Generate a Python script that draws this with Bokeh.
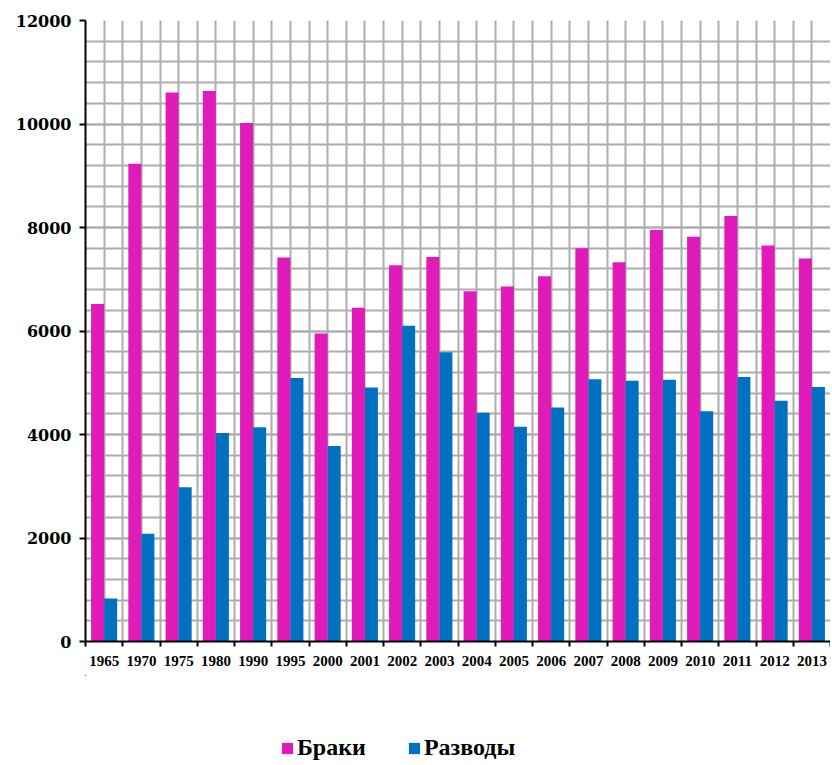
from bokeh.plotting import figure
from bokeh.models import ColumnDataSource, FixedTicker, Range1d, Legend, LegendItem
from bokeh.layouts import column
from bokeh.embed import file_html
from bokeh.resources import INLINE
import numpy as np

years = ["1965", "1970", "1975", "1980", "1990", "1995", "2000", "2001", "2002", "2003",
         "2004", "2005", "2006", "2007", "2008", "2009", "2010", "2011", "2012", "2013"]
marriages = [6520, 9230, 10610, 10640, 10020, 7420, 5950, 6450, 7270, 7430,
             6770, 6860, 7060, 7600, 7330, 7950, 7820, 8220, 7650, 7400]
divorces = [830, 2080, 2980, 4030, 4140, 5090, 3780, 4910, 6100, 5590,
            4420, 4150, 4520, 5070, 5040, 5060, 4450, 5110, 4650, 4920]
y_ticks = [0, 2000, 4000, 6000, 8000, 10000, 12000]
label_marriages = "Браки"
label_divorces = "Разводы"

MAGENTA = "#E01BB9"
BLUE = "#0070C0"
GRID = "#ADADAD"

n = len(years)
idx = np.arange(n)
bw = 0.35
src = ColumnDataSource(dict(
    x1=idx + 0.5 - bw / 2,
    x2=idx + 0.5 + bw / 2,
    m=marriages,
    d=divorces,
))

p = figure(width=830, height=675, output_backend="svg", toolbar_location=None,
           x_range=Range1d(0, n), y_range=Range1d(0, 12000),
           min_border_left=85, min_border_right=0, min_border_top=20,
           min_border_bottom=34)
p.outline_line_color = None
p.background_fill_color = "white"
p.border_fill_color = "white"

r1 = p.vbar(x="x1", top="m", width=bw, source=src, fill_color=MAGENTA, line_color=None)
r2 = p.vbar(x="x2", top="d", width=bw, source=src, fill_color=BLUE, line_color=None)

# x axis: labels at centres, tick marks at boundaries
centers = [float(i) + 0.5 for i in idx]
bounds = [float(i) for i in range(n + 1)]
p.xaxis.ticker = FixedTicker(ticks=centers, minor_ticks=bounds)
p.xaxis.major_label_overrides = {c: y for c, y in zip(centers, years)}
p.xaxis.major_tick_line_color = None
p.xaxis.major_tick_out = 0
p.xaxis.major_tick_in = 0
p.xaxis.minor_tick_line_color = "black"
p.xaxis.minor_tick_line_width = 2
p.xaxis.minor_tick_out = 5
p.xaxis.minor_tick_in = 0
p.xaxis.axis_line_color = "black"
p.xaxis.axis_line_width = 2
p.xaxis.major_label_text_font = "Liberation Serif"
p.xaxis.major_label_text_font_style = "bold"
p.xaxis.major_label_text_font_size = "15px"
p.xaxis.major_label_text_color = "black"
p.xaxis.major_label_standoff = 9

# y axis
p.yaxis.ticker = FixedTicker(ticks=y_ticks, minor_ticks=list(range(0, 12001, 400)))
p.yaxis.major_tick_line_color = "black"
p.yaxis.major_tick_line_width = 2
p.yaxis.major_tick_out = 6
p.yaxis.major_tick_in = 0
p.yaxis.minor_tick_line_color = None
p.yaxis.axis_line_color = "black"
p.yaxis.axis_line_width = 2
p.yaxis.major_label_text_font = "DejaVu Serif"
p.yaxis.major_label_text_font_style = "bold"
p.yaxis.major_label_text_font_size = "16px"
p.yaxis.major_label_text_color = "black"
p.yaxis.major_label_standoff = 8

# grids
p.xgrid.ticker = FixedTicker(ticks=sorted(centers + bounds))
p.xgrid.grid_line_color = GRID
p.xgrid.grid_line_width = 2
p.ygrid.grid_line_color = GRID
p.ygrid.grid_line_width = 2
p.ygrid.minor_grid_line_color = GRID
p.ygrid.minor_grid_line_width = 2

# legend strip below the chart (same series, kept entirely outside this strip's view)
q = figure(width=830, height=87, output_backend="svg", toolbar_location=None,
           x_axis_type=None, y_axis_type=None, min_border=0,
           x_range=Range1d(1000, 1001), y_range=Range1d(-2, -1))
q.outline_line_color = None
q.border_fill_color = "white"
q.background_fill_color = "white"
lg1 = q.vbar(x="x1", top="m", width=bw, source=src, fill_color=MAGENTA, line_color=None)
lg2 = q.vbar(x="x2", top="d", width=bw, source=src, fill_color=BLUE, line_color=None)

legend = Legend(items=[LegendItem(label=label_marriages, renderers=[lg1]),
                       LegendItem(label=label_divorces, renderers=[lg2])],
                orientation="horizontal", location=(195, 1))
legend.label_text_font = "Liberation Serif"
legend.label_text_font_style = "bold"
legend.label_text_font_size = "24px"
legend.label_text_color = "black"
legend.glyph_width = 14
legend.glyph_height = 14
legend.label_standoff = 3
legend.spacing = 41
legend.padding = 0
legend.margin = 0
legend.label_height = 24
legend.background_fill_alpha = 0
legend.border_line_color = None
q.add_layout(legend, "center")

layout = column(p, q, spacing=0)
open("out.html", "w").write(file_html(layout, INLINE))
